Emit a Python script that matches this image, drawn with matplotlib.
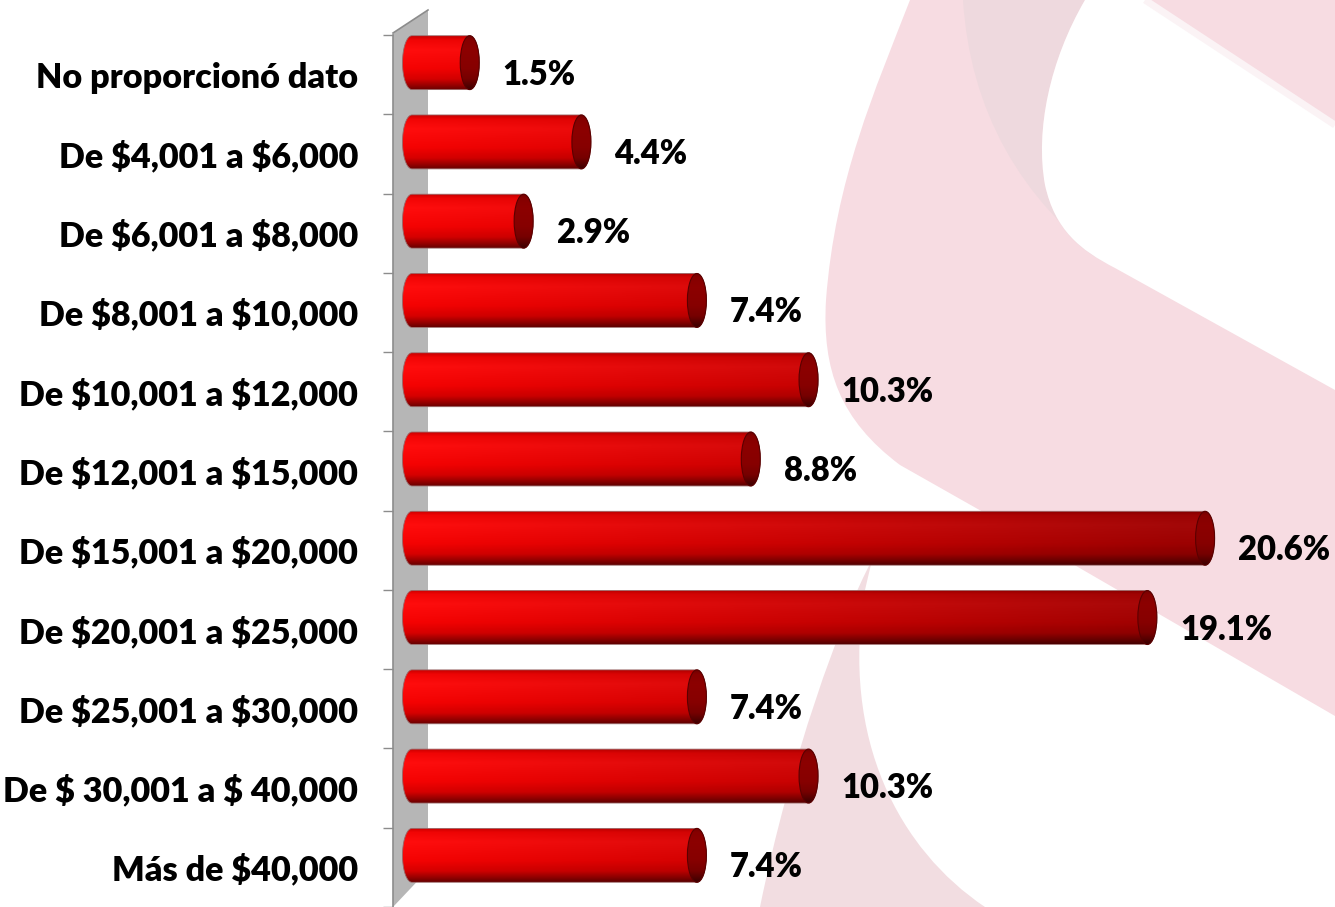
import numpy as np
import matplotlib
matplotlib.use('Agg')
import matplotlib.pyplot as plt
from matplotlib.path import Path
from matplotlib.patches import PathPatch, Polygon, Ellipse
import matplotlib.transforms as mtransforms

plt.rcParams['text.parse_math'] = False
plt.rcParams['font.family'] = ['Lato', 'DejaVu Sans']

# ---------------- data ----------------
categories = [
    "No proporcionó dato",
    "De $4,001 a $6,000",
    "De $6,001 a $8,000",
    "De $8,001 a $10,000",
    "De $10,001 a $12,000",
    "De $12,001 a $15,000",
    "De $15,001 a $20,000",
    "De $20,001 a $25,000",
    "De $25,001 a $30,000",
    "De $ 30,001 a $ 40,000",
    "Más de $40,000",
]
values = [1.5, 4.4, 2.9, 7.4, 10.3, 8.8, 20.6, 19.1, 7.4, 10.3, 7.4]
value_labels = [f"{v:.1f}%" for v in values]

W, H, DPI = 1335, 907, 100
fig = plt.figure(figsize=(W / DPI, H / DPI), dpi=DPI)
fig.patch.set_facecolor('white')

FW = 'heavy'

# ---------------- background decoration (pixel coords) ----------------
bg = fig.add_axes([0, 0, 1, 1], zorder=0)
bg.set_xlim(0, W)
bg.set_ylim(H, 0)
bg.axis('off')

M, C, L, Z = Path.MOVETO, Path.CURVE4, Path.LINETO, Path.CLOSEPOLY

def add_path(ax, verts, codes, **kw):
    ax.add_patch(PathPatch(Path(verts, codes), **kw))

# upper arc + diagonal band
add_path(bg,
         [(910, 0), (875, 90), (835, 180), (826, 300),
          (822, 370), (840, 420), (900, 465),
          (983, 512), (1335, 716), (1335, 0), (910, 0)],
         [M, C, C, C, C, C, C, L, L, L, Z],
         facecolor='#f7dce2', edgecolor='none', zorder=1)
# darker inner stripe
add_path(bg,
         [(963, 0), (970, 110), (1020, 200), (1110, 265),
          (1080, 250), (1055, 230), (1045, 185),
          (1035, 130), (1050, 60), (1085, 0), (963, 0)],
         [M, C, C, C, C, C, C, C, C, C, Z],
         facecolor='#eed9de', edgecolor='none', zorder=2)
# upper white hole
add_path(bg,
         [(1085, 0), (1050, 60), (1035, 130), (1045, 185),
          (1055, 230), (1080, 250), (1115, 268),
          (1335, 390), (1335, 125), (1145, 0), (1085, 0)],
         [M, C, C, C, C, C, C, L, L, L, Z],
         facecolor='white', edgecolor='none', zorder=2)
# faint light edge along top-right boundary
bg.plot([1145, 1335], [0, 125], color='#fbf3f5', lw=5, zorder=2, solid_capstyle='butt')
# lower crescent
add_path(bg,
         [(872, 560), (840, 620), (790, 760), (760, 907),
          (985, 907), (900, 850), (840, 740), (865, 590), (872, 560)],
         [M, C, C, C, L, C, C, C, Z],
         facecolor='#f2dde1', edgecolor='none', zorder=1)

# grey side wall
bg.add_patch(Polygon([(393, 33), (428, 10), (428, 870), (393, 907)],
                     closed=True, facecolor='#b6b6b6', edgecolor='none', zorder=3))
bg.plot([393, 428], [33, 10], color='#8c8c8c', lw=1.2, zorder=4)

# ---------------- main axes ----------------
ax_left, ax_top = 393, 35
ax = fig.add_axes([ax_left / W, 0, (W - ax_left) / W, (H - ax_top) / H], zorder=2)
ax.patch.set_alpha(0)
px_per_unit = 38.5
xmax = (W - ax_left) / px_per_unit
ax.set_xlim(0, xmax)
n = len(categories)
ax.set_ylim(n - 0.5, -0.5)

for s in ['top', 'right', 'bottom']:
    ax.spines[s].set_visible(False)
ax.spines['left'].set_color('#8c8c8c')
ax.spines['left'].set_linewidth(1.2)
ax.set_xticks([])

# font size to fit label width
probe = fig.text(0, 0, categories[0], fontsize=20, fontweight=FW)
rend = fig.canvas.get_renderer()
wpx = probe.get_window_extent(rend).width
fs = 20 * 322 / wpx
probe2 = fig.text(0, 0, "10.3%", fontsize=20, fontweight=FW)
fs_val = 20 * 92 / probe2.get_window_extent(rend).width
probe.remove()
probe2.remove()

ypos = np.arange(n)
ax.set_yticks(ypos)
ax.set_yticklabels(categories, fontsize=fs, fontweight=FW, color='black')
ax.set_yticks(np.arange(n + 1) - 0.5, minor=True)
ax.tick_params(axis='y', which='major', length=0, pad=25)
ax.tick_params(axis='y', which='minor', length=7.2, width=1, color='#8c8c8c')

# 3D offset transform for cylinders (depth shift right/up)
dx_px, dy_px = 19, 12
trans = ax.transData + mtransforms.ScaledTranslation(dx_px / DPI, dy_px / DPI, fig.dpi_scale_trans)

bar_h = 0.68
cap_a = 9.5 / px_per_unit   # half width of end ellipses (data units)

bars = ax.barh(ypos, values, height=bar_h, left=0, color='none', edgecolor='none')

# vertical shading profile (top -> bottom)
tk = np.array([0.0, 0.07, 0.25, 0.6, 0.8, 0.92, 1.0])
vk = np.array([0.80, 0.95, 1.0, 0.96, 0.84, 0.6, 0.42])
hk = np.array([0.0, 0.02, 0.05, 0.01, 0.0, 0.0, 0.0])
rows = 60
tt = np.linspace(0, 1, rows)
vprof = np.interp(tt, tk, vk)
hprof = np.interp(tt, tk, hk)

for rect, v in zip(bars, values):
    rect.set_transform(trans)
    y0 = rect.get_y()
    yc = y0 + bar_h / 2
    b = bar_h / 2
    # body path: left half ellipse + rectangle + right half ellipse
    thr = np.linspace(-np.pi / 2, np.pi / 2, 40)
    right = np.column_stack([v + cap_a * np.cos(thr), yc + b * np.sin(thr)])
    thl = np.linspace(np.pi / 2, 3 * np.pi / 2, 40)
    left = np.column_stack([0 + cap_a * np.cos(thl), yc + b * np.sin(thl)])
    verts = np.vstack([right, left, right[:1]])
    codes = [M] + [L] * (len(verts) - 2) + [Z]
    body = PathPatch(Path(verts, codes), transform=trans, facecolor='none',
                     edgecolor=(0.6, 0.4, 0.4), lw=0.6, zorder=4)
    # gradient image
    cols = 200
    xs = np.linspace(-cap_a, v + cap_a, cols)
    hf = 1 - 0.36 * np.clip(xs / 20.0, 0, 1)
    R = np.outer(vprof, hf)
    G = np.outer(hprof * vprof, hf)
    img = np.dstack([R, G, G])
    im = ax.imshow(np.clip(img, 0, 1), extent=(-cap_a, v + cap_a, y0 + bar_h, y0),
                   origin='upper', aspect='auto', interpolation='bilinear', zorder=3)
    im.set_transform(trans)
    im.set_clip_path(body)
    ax.add_patch(body)
    # right end cap
    cap = Ellipse((v, yc), width=2 * cap_a, height=bar_h, transform=trans,
                  facecolor='none', edgecolor='#5a0000', lw=0.8, zorder=6)
    capcol = np.stack([vprof * 0.55, vprof * 0.0, vprof * 0.0], axis=-1)
    capimg = np.repeat(capcol[:, None, :], 4, axis=1)
    im2 = ax.imshow(capimg, extent=(v - cap_a, v + cap_a, y0 + bar_h, y0), origin='upper',
                    aspect='auto', interpolation='bilinear', zorder=5)
    im2.set_transform(trans)
    im2.set_clip_path(cap)
    ax.add_patch(cap)

ax.set_xlim(0, xmax)
ax.set_ylim(n - 0.5, -0.5)

# value labels (placed from the cylinder end, back at the category row)
for i, (v, lab) in enumerate(zip(values, value_labels)):
    ax.annotate(lab, xy=(v, i), xycoords=trans,
                xytext=(33 * 72 / DPI, -dy_px * 72 / DPI), textcoords='offset points',
                ha='left', va='center', fontsize=fs_val, fontweight=FW, color='black',
                zorder=7)

fig.savefig('out.png', dpi=DPI, facecolor='white')
